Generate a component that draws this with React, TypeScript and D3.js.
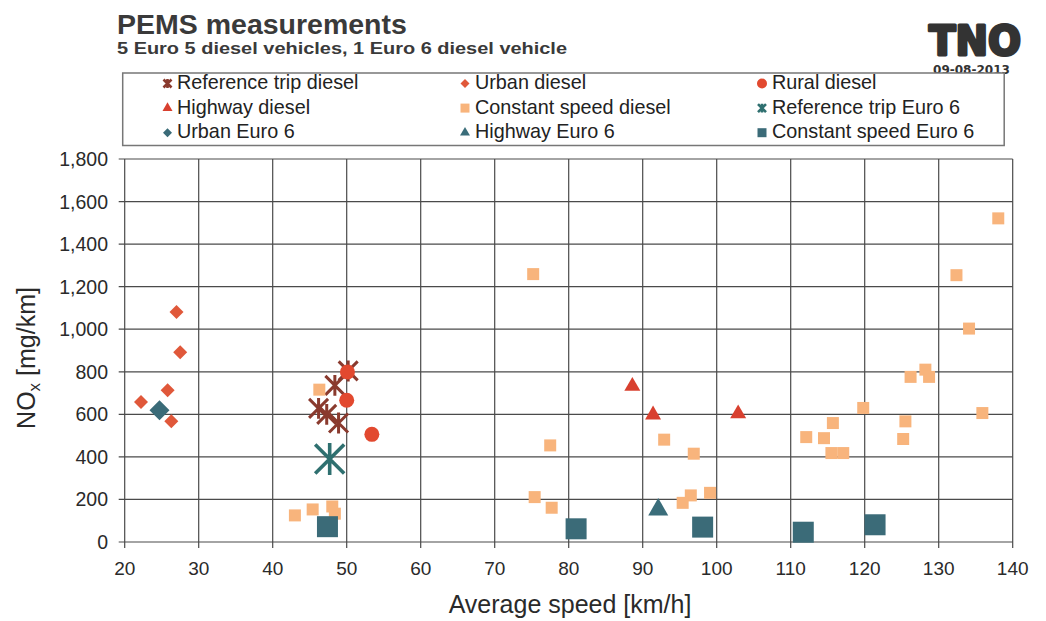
import React from "react";
import * as d3 from "d3";

// ---- Data (average speed km/h, NOx mg/km) ----
const refTripDiesel: [number, number][] = [
  [50.2, 804], [48.4, 736], [46.2, 628], [47.3, 600], [48.9, 559],
];
const urbanDiesel: [number, number][] = [
  [22.2, 658], [25.8, 713], [27.0, 1081], [27.5, 892], [26.3, 568],
];
const ruralDiesel: [number, number][] = [
  [50.1, 799], [50.0, 666], [53.4, 506],
];
const highwayDiesel: [number, number][] = [
  [88.6, 732], [91.4, 598], [102.9, 603],
];
const constantDiesel: [number, number][] = [
  [43.0, 125], [45.4, 153], [48.05, 167], [48.4, 133], [46.3, 716],
  [75.2, 1259], [77.5, 454], [92.9, 481], [96.9, 415], [75.4, 211],
  [77.7, 161], [96.5, 219], [95.4, 184], [99.1, 231], [138.05, 1521],
  [132.4, 1254], [134.1, 1003], [128.2, 810], [126.2, 776], [128.7, 776],
  [119.8, 630], [135.9, 606], [125.5, 567], [115.7, 559], [112.1, 493],
  [114.5, 488], [125.2, 484], [115.5, 418], [117.1, 418],
];
const refTripEuro6: [number, number][] = [[47.7, 390]];
const urbanEuro6: [number, number][] = [[24.7, 619]];
const highwayEuro6: [number, number][] = [[92.1, 152]];
const constantEuro6: [number, number][] = [
  [47.4, 72], [81.0, 62], [98.1, 70], [111.7, 46], [121.4, 81],
];

const seriesNames = [
  "Reference trip diesel", "Urban diesel", "Rural diesel",
  "Highway diesel", "Constant speed diesel", "Reference trip Euro 6",
  "Urban Euro 6", "Highway Euro 6", "Constant speed Euro 6",
];
const xTicks = [20, 30, 40, 50, 60, 70, 80, 90, 100, 110, 120, 130, 140];
const yTicks = [0, 200, 400, 600, 800, 1000, 1200, 1400, 1600, 1800];

type Shape = "star" | "diamond" | "circle" | "triangle" | "square";
interface Style { shape: Shape; color: string; size: number; legendSize: number; }

const seriesData = [
  refTripDiesel, urbanDiesel, ruralDiesel, highwayDiesel, constantDiesel,
  refTripEuro6, urbanEuro6, highwayEuro6, constantEuro6,
];
const styles: Style[] = [
  { shape: "star", color: "#8a3a2e", size: 19, legendSize: 8 },
  { shape: "diamond", color: "#e0583a", size: 14, legendSize: 9 },
  { shape: "circle", color: "#e2492f", size: 15, legendSize: 10 },
  { shape: "triangle", color: "#d8402f", size: 16, legendSize: 10 },
  { shape: "square", color: "#f8b47c", size: 12, legendSize: 9 },
  { shape: "star", color: "#2f7070", size: 29, legendSize: 8 },
  { shape: "diamond", color: "#3a6b78", size: 20, legendSize: 9 },
  { shape: "triangle", color: "#3a6d7a", size: 20, legendSize: 10 },
  { shape: "square", color: "#3b6b78", size: 21, legendSize: 9 },
];

const W = 1046, H = 621;
const x = d3.scaleLinear().domain([20, 140]).range([124.7, 1012.7]);
const y = d3.scaleLinear().domain([0, 1800]).range([542, 159]);
const fmt = d3.format(",");

function Marker({ st, cx, cy, s }: { st: Style; cx: number; cy: number; s: number }) {
  if (st.shape === "star") {
    const h = s / 2;
    const p = `M${-h},${-h}L${h},${h}M${-h},${h}L${h},${-h}M0,${-h * 1.1}L0,${h * 1.1}`;
    return (
      <path d={p} transform={`translate(${cx},${cy})`} stroke={st.color}
        strokeWidth={s > 12 ? (s > 22 ? 3.6 : 3) : 2.6} fill="none" strokeLinecap="butt" />
    );
  }
  let d = "";
  let rot = 0;
  if (st.shape === "square") d = d3.symbol(d3.symbolSquare, s * s)() as string;
  else if (st.shape === "diamond") { d = d3.symbol(d3.symbolSquare, (s * s) / 2)() as string; rot = 45; }
  else if (st.shape === "circle") d = d3.symbol(d3.symbolCircle, Math.PI * (s / 2) * (s / 2))() as string;
  else if (st.shape === "triangle") d = d3.symbol(d3.symbolTriangle, (Math.sqrt(3) / 4) * s * s)() as string;
  return <path d={d} transform={`translate(${cx},${cy}) rotate(${rot})`} fill={st.color} />;
}

export default function App() {
  const font = "Liberation Sans, Arial, sans-serif";
  const gridColor = "#4a4a4a";
  const legendColsMarker = [167.5, 465, 762];
  const legendColsText = [177, 475, 772];
  return (
    <svg width={W} height={H} style={{ position: "absolute", left: 0, top: 0, background: "#fff" }}
      fontFamily={font}>
      <rect x={0} y={0} width={W} height={H} fill="#fff" />
      {/* Title */}
      <text x={117} y={34} fontSize={28.5} fontWeight="bold" fill="#3a3a3a">PEMS measurements</text>
      <text x={117} y={54} fontSize={17} fontWeight="bold" fill="#3a3a3a"
        textLength={450} lengthAdjust="spacingAndGlyphs">5 Euro 5 diesel vehicles, 1 Euro 6 diesel vehicle</text>
      {/* Logo */}
      <text x={929} y={55} fontSize={40} fontWeight={900} fontFamily="DejaVu Sans" fill="#333"
        stroke="#333" strokeWidth={3} strokeLinejoin="round"
        textLength={92} lengthAdjust="spacingAndGlyphs">TNO</text>
      <text x={933} y={74} fontSize={11.5} fontWeight="bold" fontFamily="DejaVu Sans" fill="#333"
        textLength={77} lengthAdjust="spacingAndGlyphs">09-08-2013</text>

      {/* Legend */}
      <rect x={122.7} y={73} width={881.5} height={72.5} fill="#fff" stroke="#777" strokeWidth={1.5} />
      {seriesNames.map((name, i) => {
        const col = i % 3, row = Math.floor(i / 3);
        const my = 83.5 + row * 24.6;
        return (
          <g key={name}>
            <Marker st={styles[i]} cx={legendColsMarker[col]} cy={my} s={styles[i].legendSize} />
            <text x={legendColsText[col]} y={my + 5.5} fontSize={19.8} fill="#222">{name}</text>
          </g>
        );
      })}

      {/* Grid */}
      {xTicks.map((t) => (
        <g key={"x" + t}>
          <line x1={x(t)} x2={x(t)} y1={y(1800)} y2={y(0) + 6} stroke={gridColor} strokeWidth={1.2} />
          <text x={x(t)} y={575} fontSize={19} textAnchor="middle" fill="#2a2a2a">{t}</text>
        </g>
      ))}
      {yTicks.map((t) => (
        <g key={"y" + t}>
          <line x1={x(20) - 6} x2={x(140)} y1={y(t)} y2={y(t)} stroke={gridColor} strokeWidth={1.2} />
          <text x={108} y={y(t) + 7} fontSize={19.5} textAnchor="end" fill="#2a2a2a">{fmt(t)}</text>
        </g>
      ))}

      {/* Axis titles */}
      <text x={570} y={613} fontSize={25} textAnchor="middle" fill="#2a2a2a">Average speed [km/h]</text>
      <text transform="translate(35,358) rotate(-90)" fontSize={25} textAnchor="middle" fill="#2a2a2a">
        NO<tspan fontSize={17} dy={5}>x</tspan><tspan dy={-5}> [mg/km]</tspan>
      </text>

      {/* Points */}
      {seriesData.map((data, i) => (
        <g key={"s" + i}>
          {data.map(([vx, vy], j) => (
            <Marker key={j} st={styles[i]} cx={x(vx)} cy={y(vy)} s={styles[i].size} />
          ))}
        </g>
      ))}
    </svg>
  );
}
